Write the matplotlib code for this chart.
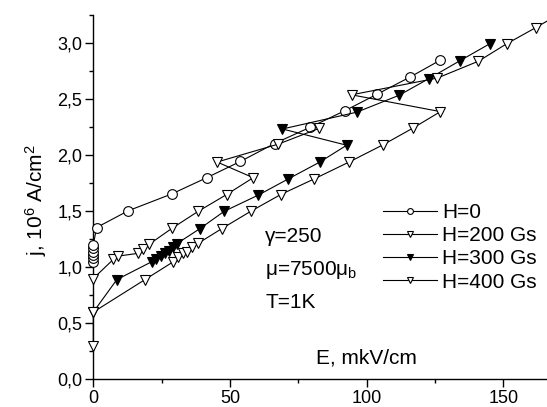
import matplotlib
matplotlib.use('Agg')
import matplotlib.pyplot as plt
from matplotlib.ticker import MultipleLocator, FuncFormatter

plt.rcParams['font.family'] = ['Liberation Sans', 'DejaVu Sans']
plt.rcParams['mathtext.default'] = 'regular'

# H = 0 (open circles)
e_h0 = [0, 0, 0, 0, 0, 0, 1.2, 12.8, 28.7, 41.5, 53.8, 66.3, 79.3, 92.2, 103.8, 116.0, 127.0]
j_h0 = [1.05, 1.08, 1.11, 1.14, 1.17, 1.20, 1.355, 1.505, 1.655, 1.80, 1.945, 2.105, 2.25, 2.40,
        2.545, 2.70, 2.85]

# H = 200 Gs (open triangles)
e_h200 = [0, 7.3, 9.1, 16.5, 18.3, 20.4, 28.9, 38.4, 48.8, 58.5, 45.3, 67.7, 82.6]
j_h200 = [0.90, 1.07, 1.10, 1.125, 1.165, 1.205, 1.35, 1.50, 1.65, 1.80, 1.94, 2.10, 2.24]

# H = 300 Gs (filled triangles)
e_h300 = [0, 8.6, 21.4, 23.0, 24.6, 26.2, 27.8, 29.2, 30.5, 39.0, 47.9, 60.4, 71.4, 82.9, 92.7,
          69.2, 96.4, 111.8, 122.8, 134.2, 145.0]
j_h300 = [0.60, 0.89, 1.05, 1.075, 1.10, 1.125, 1.15, 1.18, 1.21, 1.345, 1.50, 1.645, 1.79, 1.94, 2.09,
          2.235, 2.385, 2.535, 2.685, 2.845, 2.995]

# H = 400 Gs (open triangles)
e_h400 = [0, 0, 18.9, 29.3, 31.1, 32.9, 34.2, 36.0, 38.4, 47.0, 57.6, 68.6, 80.9, 93.6, 106.1, 117.1,
          127.0, 94.5, 125.9, 140.9, 151.2, 161.9, 172.5]
j_h400 = [0.30, 0.60, 0.89, 1.05, 1.095, 1.125, 1.14, 1.185, 1.215, 1.345, 1.50, 1.65, 1.79, 1.94, 2.095,
          2.245, 2.39, 2.54, 2.69, 2.84, 2.995, 3.14, 3.29]

labels = ['H=0', 'H=200 Gs', 'H=300 Gs', 'H=400 Gs']

fig = plt.figure(figsize=(5.47, 4.07), dpi=100)
# right edge of the axes is the right edge of the figure
ax = fig.add_axes([93.3 / 547, 1 - 379.3 / 407, 1 - 93.3 / 547, (379.3 - 15.3) / 407])

lw = 0.8
ms = 7
series = [
    (e_h0, j_h0, 'o', 'white'),
    (e_h200, j_h200, 'v', 'white'),
    (e_h300, j_h300, 'v', 'black'),
    (e_h400, j_h400, 'v', 'white'),
]
for (e, j, m, fc), lab in zip(series, labels):
    ax.plot(e, j, color='black', lw=lw, marker=m, ms=ms, mfc=fc, mec='black', mew=0.8,
            label=lab, zorder=3, clip_on=False)

ax.set_xlim(0, 166)
ax.set_ylim(0, 3.25)

for s in ['top', 'right']:
    ax.spines[s].set_visible(False)
for s in ['left', 'bottom']:
    ax.spines[s].set_linewidth(1.0)
    ax.spines[s].set_zorder(2)

ax.xaxis.set_major_locator(MultipleLocator(50))
ax.xaxis.set_minor_locator(MultipleLocator(25))
ax.yaxis.set_major_locator(MultipleLocator(0.5))
ax.yaxis.set_minor_locator(MultipleLocator(0.25))
ax.yaxis.set_major_formatter(FuncFormatter(lambda v, p: ('%.1f' % v).replace('.', ',')))
ax.tick_params(which='major', direction='out', length=6, width=1.0, labelsize=13, pad=2)
ax.tick_params(which='minor', direction='out', length=3, width=1.0)

leg = ax.legend(loc='upper left', bbox_to_anchor=(383 / 547, 1 - 203 / 407),
                bbox_transform=fig.transFigure, frameon=False, fontsize=15,
                handlelength=2.6, handletextpad=0.25, labelspacing=0.2,
                borderpad=0, borderaxespad=0, markerscale=0.6)

fig.text(265 / 547, 1 - 236.7 / 407, '\u03b3=250', fontsize=15, va='center', ha='left')
fig.text(265 / 547, 1 - 270 / 407, '\u03bc=7500\u03bc$_b$', fontsize=15, va='center', ha='left')
fig.text(265 / 547, 1 - 303 / 407, 'T=1K', fontsize=15, va='center', ha='left')

fig.text(366.5 / 547, 1 - 358 / 407, 'E, mkV/cm', fontsize=15, va='center', ha='center')
fig.text(36 / 547, 1 - 200 / 407, 'j, 10$^6$ A/cm$^2$', fontsize=15, va='center', ha='center',
         rotation=90)

fig.savefig('out.png', dpi=100)
